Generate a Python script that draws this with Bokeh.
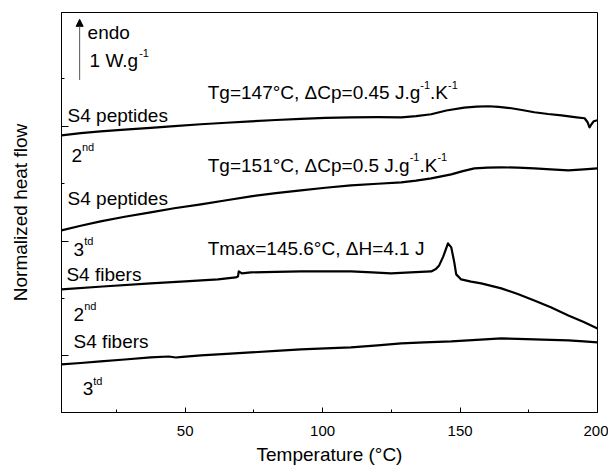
from bokeh.plotting import figure
from bokeh.models import FixedTicker, Arrow, NormalHead
from bokeh.core.properties import value
from bokeh.embed import file_html
from bokeh.resources import INLINE

# ---------------- data ----------------
# S4 peptides, 2nd scan
t_pep2 = [5, 12, 19.2, 28, 37.4, 46, 55.7, 65, 73.9, 83, 92.1, 101, 110.3, 120, 128.6, 134,
          139.5, 145, 151.5, 156, 160.3, 164, 168.7, 173, 177.0, 182, 186.9, 192.4, 195.3,
          196.4, 197.1, 197.8, 198.6, 200]
hf_pep2 = [4.851, 4.888, 4.921, 4.952, 4.982, 5.013, 5.044, 5.071, 5.096, 5.119, 5.140, 5.155,
           5.166, 5.168, 5.166, 5.185, 5.219, 5.285, 5.335, 5.352, 5.359, 5.348, 5.324, 5.290,
           5.254, 5.224, 5.201, 5.166, 5.149, 5.079, 4.991, 5.044, 5.096, 5.114]
# S4 peptides, 3rd scan
t_pep3 = [5, 12, 19.2, 28, 37.4, 46, 55.7, 65, 73.9, 83, 92.1, 101, 110.3, 120, 128.6, 134,
          139.5, 146.8, 151, 155.2, 160, 165.0, 171, 177.0, 183, 189.4, 195, 200]
hf_pep3 = [3.187, 3.268, 3.345, 3.425, 3.503, 3.575, 3.643, 3.714, 3.783, 3.838, 3.888, 3.933,
           3.975, 4.003, 4.028, 4.058, 4.098, 4.168, 4.225, 4.273, 4.287, 4.291, 4.284,
           4.273, 4.255, 4.238, 4.255, 4.273]
# S4 fibers, 2nd scan
t_fib2 = [5, 20, 37.4, 50, 61.9, 68.4, 69.2, 69.5, 70.6, 73.9, 83, 92.1, 101, 110.3, 118,
          124.9, 132, 139.5, 141.2, 142.4, 143.9, 145.6, 146.8, 147.9, 148.6, 150.4, 154,
          157.7, 165.0, 171, 177.0, 183, 189.4, 195, 200]
hf_fib2 = [2.154, 2.205, 2.259, 2.295, 2.329, 2.364, 2.382, 2.469, 2.434, 2.452, 2.462, 2.469,
           2.469, 2.469, 2.452, 2.434, 2.452, 2.469, 2.510, 2.574, 2.732, 2.960, 2.890,
           2.627, 2.417, 2.329, 2.290, 2.259, 2.172, 2.075, 1.961, 1.840, 1.699, 1.585, 1.471]
# S4 fibers, 3rd scan
t_fib3 = [5, 12, 19.2, 28, 37.4, 44, 46.6, 49, 55.7, 65, 73.9, 83, 92.1, 101, 110.3, 120,
          128.6, 137, 146.8, 156, 165.0, 171, 177.0, 183, 189.4, 195, 200]
hf_fib3 = [0.841, 0.866, 0.893, 0.928, 0.963, 0.980, 0.963, 0.975, 0.998, 1.025, 1.051, 1.078,
           1.103, 1.122, 1.138, 1.175, 1.208, 1.228, 1.243, 1.272, 1.296, 1.290, 1.278,
           1.270, 1.261, 1.245, 1.226]

x_ticks = [50, 100, 150, 200]
x_minor = [25, 75, 125, 175]
y_ticks = [1, 3, 5]
y_minor = [2, 4, 5.85]

FONT = "Liberation Sans"

p = figure(width=608, height=468, x_range=(5, 200), y_range=(0, 7),
           output_backend="svg", toolbar_location=None,
           min_border_left=61, min_border_right=11, min_border_top=12, min_border_bottom=56)
p.background_fill_color = "white"
p.border_fill_color = "white"
p.xgrid.visible = False
p.ygrid.visible = False
p.outline_line_color = "black"
p.outline_line_width = 1

for ax in (p.xaxis[0], p.yaxis[0]):
    ax.axis_line_color = "black"
    ax.major_tick_line_color = "black"
    ax.minor_tick_line_color = "black"
    ax.major_tick_out = 0
    ax.minor_tick_out = 0
    ax.axis_label_text_font = FONT
    ax.axis_label_text_font_style = "normal"
    ax.axis_label_text_font_size = "19px"
    ax.axis_label_text_color = "black"
    ax.major_label_text_font = FONT
    ax.major_label_text_color = "black"

p.xaxis.ticker = FixedTicker(ticks=x_ticks, minor_ticks=x_minor)
p.xaxis.major_tick_in = 5
p.xaxis.minor_tick_in = 3
p.xaxis.major_label_text_font_size = "15px"
p.xaxis.major_label_standoff = 13
p.xaxis.axis_label = "Temperature (°C)"
p.xaxis.axis_label_standoff = 5

p.yaxis.ticker = FixedTicker(ticks=y_ticks, minor_ticks=y_minor)
p.yaxis.major_tick_in = 7
p.yaxis.minor_tick_in = 3
p.yaxis.major_label_overrides = {t: "" for t in y_ticks}
p.yaxis.major_label_standoff = 0
p.yaxis.axis_label = "Normalized heat flow"
p.yaxis.axis_label_standoff = 31

for t, h in ((t_pep2, hf_pep2), (t_pep3, hf_pep3), (t_fib2, hf_fib2), (t_fib3, hf_fib3)):
    p.line(t, h, line_color="black", line_width=2.2, line_join="round")

# endo arrow
p.add_layout(Arrow(end=NormalHead(size=7, fill_color="black", line_color="black"),
                   x_start=11.6, y_start=5.82, x_end=11.6, y_end=6.88,
                   line_color="#555555", line_width=1))

# Arial-compatible advance widths (em)
W = {' ': .278, '(': .333, ')': .333, ',': .278, '-': .333, '.': .278, '=': .584,
     'C': .722, 'H': .722, 'J': .5, 'K': .667, 'S': .667, 'T': .611, 'W': .944,
     'a': .556, 'b': .556, 'd': .556, 'e': .556, 'f': .278, 'g': .556, 'i': .222,
     'm': .833, 'n': .556, 'o': .556, 'p': .556, 'r': .333, 's': .5, 't': .278,
     'x': .5, '°': .4, 'Δ': .668}


def tw(s, size):
    return sum(W.get(c, .556) for c in s) * size


def rich(x, y, parts, size=19, sup_size=11, rise=8):
    off = 0.0
    for s, sup in parts:
        fs = sup_size if sup else size
        p.text(x=[x], y=[y], text=[s], x_offset=off, y_offset=(-rise if sup else 0),
               text_font=value(FONT), text_font_size=f"{fs}px", text_color="black",
               text_baseline="alphabetic", text_align="left")
        off += tw(s, fs)


rich(14.5, 6.65, [("endo", False)])
rich(15.2, 6.16, [("1 W.g", False), ("-1", True)])
rich(58.2, 5.60, [("Tg=147°C, ΔCp=0.45 J.g", False), ("-1", True), (".K", False), ("-1", True)])
rich(7.2, 5.20, [("S4 peptides", False)])
rich(8.6, 4.50, [("2", False), ("nd", True)])
rich(58.2, 4.33, [("Tg=151°C, ΔCp=0.5 J.g", False), ("-1", True), (".K", False), ("-1", True)])
rich(7.2, 3.75, [("S4 peptides", False)])
rich(9.4, 2.86, [("3", False), ("td", True)])
rich(58.2, 2.87, [("Tmax=145.6°C, ΔH=4.1 J", False)])
rich(6.8, 2.42, [("S4 fibers", False)])
rich(9.4, 1.72, [("2", False), ("nd", True)])
rich(9.4, 1.24, [("S4 fibers", False)])
rich(12.7, 0.42, [("3", False), ("td", True)])

open("out.html", "w").write(file_html(p, INLINE))
